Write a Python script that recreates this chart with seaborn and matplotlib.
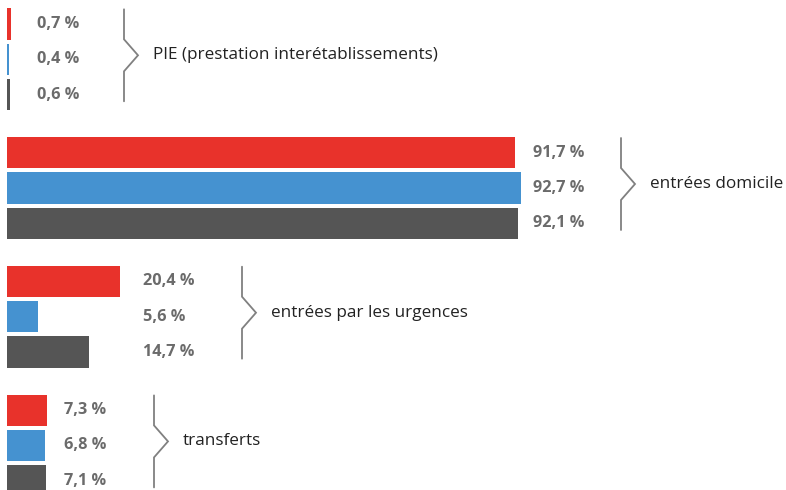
import matplotlib
matplotlib.use("Agg")
import matplotlib.pyplot as plt
import seaborn as sns
import pandas as pd

# ---- data ----
categories = ["PIE (prestation interétablissements)", "entrées domicile",
              "entrées par les urgences", "transferts"]
series = ["A", "B", "C"]
values_a = [0.7, 91.7, 20.4, 7.3]
values_b = [0.4, 92.7, 5.6, 6.8]
values_c = [0.6, 92.1, 14.7, 7.1]
colors = ["#E8322B", "#4592D0", "#555555"]

# ---- layout (pixels) ----
W, H = 786, 490
X0 = 7.0           # pixel of value 0
PX_PER_UNIT = 5.545
GROUP_PITCH = 128.7
ROW_PITCH = 35.3
FIRST_CENTER = 24.0
label_x_px = [37, 533, 143, 64]
bracket_x_px = [124, 621, 242, 154]

rows = []
for g, cat in enumerate(categories):
    for s, vals in enumerate([values_a, values_b, values_c]):
        rows.append({"cat": cat, "series": series[s], "value": vals[g],
                     "pos": FIRST_CENTER + g * GROUP_PITCH + s * ROW_PITCH})
df = pd.DataFrame(rows)

sns.set_theme(style="white")
plt.rcParams["font.family"] = ["Open Sans", "DejaVu Sans"]

fig = plt.figure(figsize=(W / 100, H / 100), dpi=100)
ax = fig.add_axes([0, 0, 1, 1])

sns.barplot(data=df, x="value", y="pos", hue="series", orient="h",
            native_scale=True, dodge=False, width=0.88,
            palette=colors, hue_order=series, legend=False, ax=ax,
            saturation=1, linewidth=0)

def px2x(px):
    return (px - X0) / PX_PER_UNIT

ax.set_xlim(px2x(0), px2x(W))
ax.set_ylim(H, 0)
ax.axis("off")

for g, cat in enumerate(categories):
    centers = [FIRST_CENTER + g * GROUP_PITCH + s * ROW_PITCH for s in range(3)]
    vals = [values_a[g], values_b[g], values_c[g]]
    for c, v in zip(centers, vals):
        txt = f"{v:.1f}".replace(".", ",") + " %"
        ax.text(px2x(label_x_px[g]), c, txt, ha="left", va="center",
                fontsize=11.7, fontweight="bold", color="#6b6b6b")
    mid = centers[1] - 4
    top = mid - 46
    bot = mid + 46
    bx = bracket_x_px[g]
    xs = [px2x(bx), px2x(bx), px2x(bx + 14), px2x(bx), px2x(bx)]
    ys = [top, mid - 16, mid, mid + 16, bot]
    ax.plot(xs, ys, color="#808080", lw=1.3, solid_joinstyle="miter")
    ax.text(px2x(bx + 29), mid, cat, ha="left", va="center",
            fontsize=12.3, color="#222222")

fig.savefig("out.png", dpi=100)
